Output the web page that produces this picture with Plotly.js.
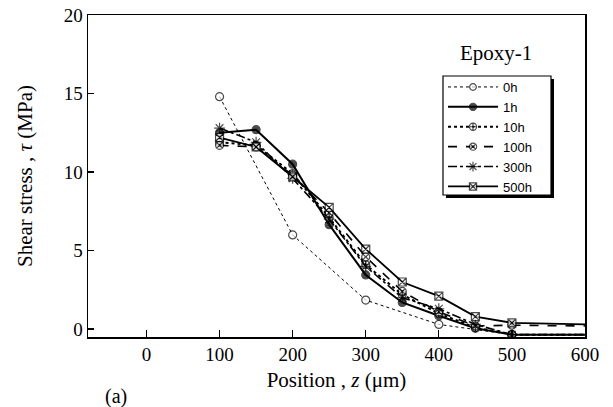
<!DOCTYPE html>
<html>
<head>
<meta charset="utf-8">
<script src="https://cdn.plot.ly/plotly-3.0.1.min.js"></script>
<style>html,body{margin:0;padding:0;background:#fff;}</style>
</head>
<body>
<div id="chart" style="width:613px;height:407px;"></div>
<script>
// Data
const xAll = [100, 150, 200, 250, 300, 350, 400, 450, 500, 600];
const x0h = [100, 200, 300, 400, 500, 600];
const y0h = [14.8, 6.0, 1.85, 0.3, -0.35, -0.35];
const y1h = [12.5, 12.7, 10.5, 6.65, 3.45, 1.7, 0.85, 0.05, -0.35, -0.35];
const y10h = [11.9, 11.7, 9.9, 7.1, 4.1, 2.2, 1.0, 0.1, -0.35, -0.35];
const y100h = [11.7, 11.6, 9.8, 7.4, 4.6, 2.4, 1.1, 0.2, 0.25, 0.2];
const y300h = [12.8, 11.9, 9.6, 7.0, 4.0, 2.0, 1.3, 0.3, -0.35, -0.35];
const y500h = [12.2, 11.6, 9.7, 7.75, 5.1, 3.0, 2.1, 0.8, 0.4, 0.3];
const seriesNames = ['0h', '1h', '10h', '100h', '300h', '500h'];
const xTicks = [0, 100, 200, 300, 400, 500, 600];
const yTicks = [0, 5, 10, 15, 20];

const sizes = (xs, s) => xs.map(v => (v >= 600 ? 0 : s));
const mk = (name, xs, ys, dash, width, symbol, size, fill) => ({
  type: 'scatter', mode: 'lines+markers', name: name, x: xs, y: ys,
  line: {color: 'black', dash: dash, width: width},
  marker: {symbol: symbol, size: sizes(xs, size), color: fill,
           line: {color: 'black', width: 1.2}}
});

const traces = [
  mk(seriesNames[0], x0h, y0h, 'dot', 1, 'circle', 8, 'white'),
  mk(seriesNames[1], xAll, y1h, 'solid', 2, 'circle', 8, 'black'),
  mk(seriesNames[2], xAll, y10h, 'dot', 2, 'circle-cross', 8, 'white'),
  mk(seriesNames[3], xAll, y100h, 'dash', 1.6, 'circle-x', 8, 'white'),
  mk(seriesNames[4], xAll, y300h, 'dashdot', 1.6, 'asterisk-open', 9, 'black'),
  mk(seriesNames[5], xAll, y500h, 'solid', 1.8, 'square-x', 8, 'white')
];

const serif = 'Liberation Serif, Times New Roman, serif';
const px2x = p => (p - 88) / 497;
const px2y = p => (337 - p) / 322;
const layout = {
  width: 613, height: 407,
  margin: {l: 88, r: 28, t: 15, b: 70},
  paper_bgcolor: 'white', plot_bgcolor: 'white',
  font: {family: serif, color: 'black', size: 19},
  showlegend: true,
  xaxis: {
    range: [-80, 600], tickvals: xTicks, ticks: 'inside', ticklen: 7, tickwidth: 1.3,
    tickcolor: 'black', showline: true, linecolor: 'black', linewidth: 1.5, mirror: true,
    showgrid: false, zeroline: false, tickfont: {family: serif, size: 19},
    title: {text: 'Position , <i>z</i> (μm)', font: {family: serif, size: 21}, standoff: 8}
  },
  yaxis: {
    range: [-0.5, 20], tickvals: yTicks, ticks: 'inside', ticklen: 6, tickwidth: 1.3,
    tickcolor: 'black', showline: true, linecolor: 'black', linewidth: 1.5, mirror: true,
    showgrid: false, zeroline: false, tickfont: {family: serif, size: 19},
    title: {text: 'Shear stress , <i>τ</i> (MPa)', font: {family: serif, size: 21}, standoff: 25}
  },
  legend: {
    x: px2x(443), y: px2y(72), xanchor: 'left', yanchor: 'top',
    bgcolor: 'rgba(0,0,0,0)', borderwidth: 0,
    font: {family: 'Liberation Sans, Arial, sans-serif', size: 13},
    itemwidth: 50, tracegroupgap: 0
  },
  shapes: [
    {type: 'rect', xref: 'paper', yref: 'paper',
     x0: px2x(446), x1: px2x(554), y0: px2y(198), y1: px2y(79),
     fillcolor: 'black', line: {width: 0}, layer: 'above'},
    {type: 'rect', xref: 'paper', yref: 'paper',
     x0: px2x(443), x1: px2x(551), y0: px2y(195), y1: px2y(76),
     fillcolor: 'white', line: {color: 'black', width: 1.2}, layer: 'above'}
  ],
  annotations: [
    {text: 'Epoxy-1', xref: 'paper', yref: 'paper', x: px2x(496), y: px2y(53),
     xanchor: 'center', yanchor: 'middle',
     showarrow: false, font: {family: serif, size: 21}},
    {text: '(a)', xref: 'paper', yref: 'paper', x: px2x(116), y: px2y(396),
     xanchor: 'center', yanchor: 'middle',
     showarrow: false, font: {family: serif, size: 20}}
  ]
};

Plotly.newPlot('chart', traces, layout, {displayModeBar: false, staticPlot: true});
</script>
</body>
</html>
